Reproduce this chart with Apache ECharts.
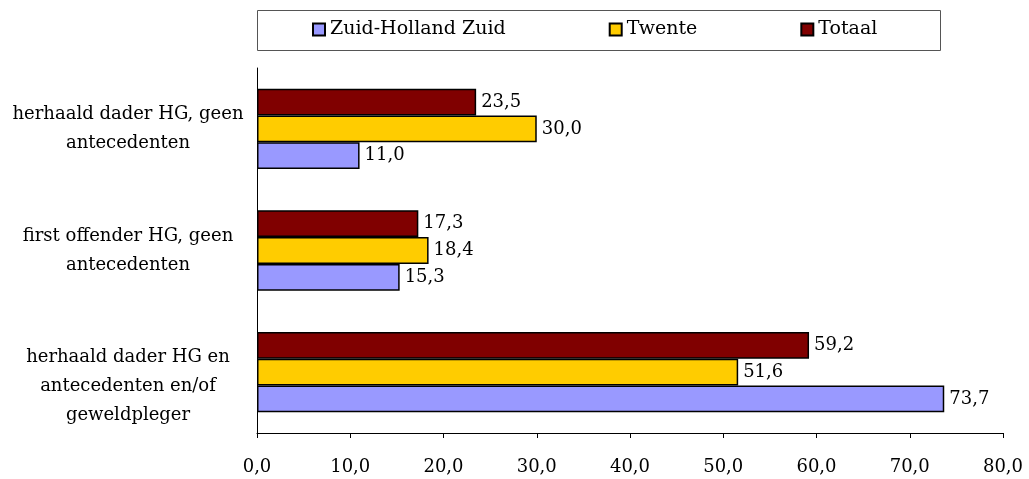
<!DOCTYPE html>
<html>
<head>
<meta charset="utf-8">
<script src="https://cdn.jsdelivr.net/npm/echarts@6/dist/echarts.min.js"></script>
<style>
  html, body { margin: 0; padding: 0; background: #fff; }
  #chart { width: 1029px; height: 479px; }
</style>
</head>
<body>
<div id="chart"></div>
<script>
// categories, bottom to top
const categories = [
  "herhaald dader HG en\nantecedenten en/of\ngeweldpleger",
  "first offender HG, geen\nantecedenten",
  "herhaald dader HG, geen\nantecedenten"
];
const seriesNames = ["Zuid-Holland Zuid", "Twente", "Totaal"];
const zuidHolland = [73.7, 15.3, 11.0];
const twente = [51.6, 18.4, 30.0];
const totaal = [59.2, 17.3, 23.5];
const colors = ["#9999ff", "#ffcc00", "#800000"];

const font = "DejaVu Serif";
const fmt = v => v.toFixed(1).replace(".", ",");

const chart = echarts.init(document.getElementById("chart"), null, { renderer: "canvas" });

const makeSeries = (i, data) => ({
  name: seriesNames[i],
  type: "bar",
  data: data,
  barGap: "0%",
  barCategoryGap: "34%",
  itemStyle: { color: colors[i], borderColor: "#000", borderWidth: 1.5 },
  label: {
    show: true,
    position: "right",
    distance: 5,
    formatter: p => fmt(p.value),
    fontFamily: font,
    fontSize: 18,
    color: "#000"
  }
});

chart.setOption({
  backgroundColor: "#fff",
  animation: false,
  textStyle: { fontFamily: font },
  grid: { left: 257, right: 26, top: 68, bottom: 46, containLabel: false, outerBoundsMode: "none" },
  legend: {
    data: seriesNames,
    top: 15,
    left: 307,
    itemGap: 103,
    itemWidth: 12,
    itemHeight: 12,
    icon: "rect",
    textStyle: { fontFamily: font, fontSize: 19, color: "#000" }
  },
  graphic: [{
    type: "rect",
    left: 255,
    top: 8,
    shape: { width: 683, height: 40 },
    style: { fill: "none", stroke: "#555", lineWidth: 1 }
  }],
  xAxis: {
    type: "value",
    min: 0,
    max: 80,
    interval: 10,
    splitLine: { show: false },
    axisLine: { show: true, lineStyle: { color: "#000" } },
    axisTick: { show: true, length: 5, lineStyle: { color: "#000" } },
    axisLabel: {
      margin: 25,
      formatter: v => fmt(v),
      fontFamily: font,
      fontSize: 18,
      color: "#000"
    }
  },
  yAxis: {
    type: "category",
    data: categories,
    axisLine: { lineStyle: { color: "#000" } },
    axisTick: { length: 6, lineStyle: { color: "#000" } },
    axisLabel: {
      align: "center",
      margin: 129,
      lineHeight: 29,
      // bottom label sits a little lower in the original
      formatter: (v, i) => (i === 0 ? "\n" + v : v),
      fontFamily: font,
      fontSize: 18,
      color: "#000"
    }
  },
  // series listed top-down so Totaal is drawn uppermost in each group
  series: [
    makeSeries(2, totaal),
    makeSeries(1, twente),
    makeSeries(0, zuidHolland)
  ]
});
</script>
</body>
</html>
